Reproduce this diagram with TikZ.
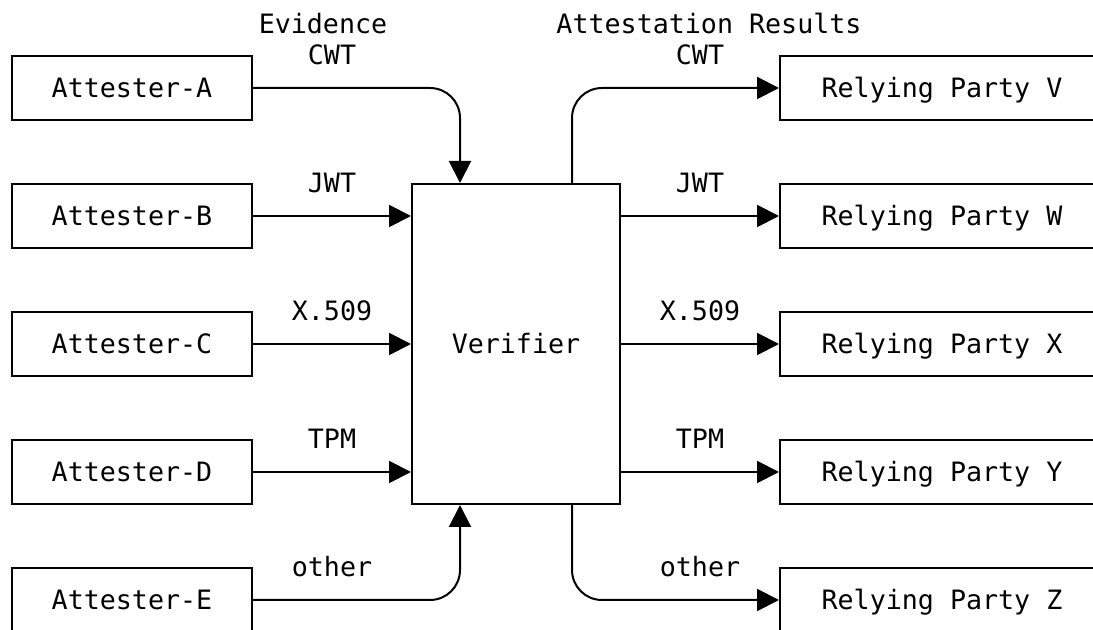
\documentclass[tikz,border=0pt]{standalone}
\usepackage{fontspec}
\setmonofont{DejaVu Sans Mono}
\usetikzlibrary{calc,positioning,arrows.meta}

\tikzset{
	box/.style={draw, line width=1.5pt, minimum height=48pt, inner sep=0pt,
		font=\ttfamily\fontsize{20}{24}\selectfont, text height=14.5pt, text depth=0pt},
	lbl/.style={inner sep=0pt, font=\ttfamily\fontsize{20}{24}\selectfont,
		text height=14.5pt, text depth=0pt},
	flow/.style={line width=1.5pt, -{Triangle[length=16.5pt,width=16.5pt]}}
}

\begin{document}
\begin{tikzpicture}[x=0.75pt,y=-0.75pt]
			\clip (0,0) rectangle (1093,630);
			\node[box, minimum width=156pt, minimum height=240pt] (ver) at (516,344) {Verifier};
			\foreach \l [count=\i from 0] in {A,B,C,D,E} {
				\node[box, minimum width=180pt] (att\l) at (132,88+128*\i) {Attester-\l};
			};
			\foreach \l [count=\i from 0] in {V,W,X,Y,Z} {
				\node[box, minimum width=243pt] (rp\l) at (942,88+128*\i) {Relying Party \l};
			};
			\coordinate (inx) at (332,0);
			\coordinate (outx) at (700,0);
			\node[lbl] (evhead) at (323,24) {Evidence};
			\node[lbl] (arhead) at (709,24) {Attestation Results};
			\foreach \l/\t in {A/CWT,B/JWT,C/X.509,D/TPM,E/other} {
				\node[lbl] (ev\l) at (inx |- att\l.north) {\t};
			};
			\foreach \l/\t in {V/CWT,W/JWT,X/X.509,Y/TPM,Z/other} {
				\node[lbl] (ar\l) at (outx |- rp\l.north) {\t};
			};
			% evidence into the verifier
			\draw[flow, rounded corners=22.5pt] (attA.east) -| ($(ver.north)+(-56,0)$);
			\foreach \l in {B,C,D} {
				\draw[flow] (att\l.east) -- (att\l -| ver.west);
			};
			\draw[flow, rounded corners=22.5pt] (attE.east) -| ($(ver.south)+(-56,0)$);
			% results out to the relying parties
			\draw[flow, rounded corners=22.5pt] ($(ver.north)+(56,0)$) |- (rpV.west);
			\foreach \l in {W,X,Y} {
				\draw[flow] (ver.east |- rp\l) -- (rp\l.west);
			};
			\draw[flow, rounded corners=22.5pt] ($(ver.south)+(56,0)$) |- (rpZ.west);
		\end{tikzpicture}
\end{document}
